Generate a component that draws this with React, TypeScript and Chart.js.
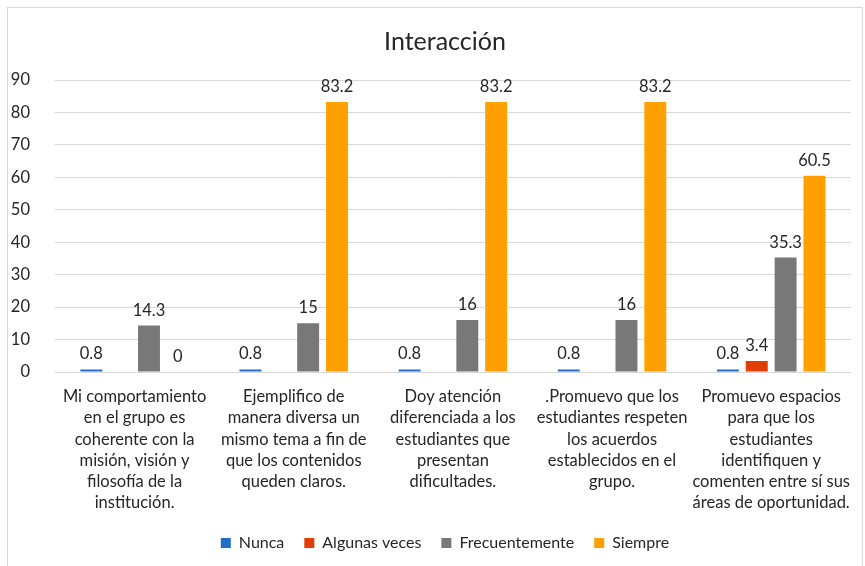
import { useEffect, useRef } from "react";
import { Chart, registerables } from "chart.js";
Chart.register(...registerables);

const title = "Interacción";
const categories: string[][] = [
  ["Mi comportamiento", "en el grupo es", "coherente con la", "misión, visión y", "filosofía de la", "institución."],
  ["Ejemplifico de", "manera diversa un", "mismo tema a fin de", "que los contenidos", "queden claros."],
  ["Doy atención", "diferenciada a los", "estudiantes que", "presentan", "dificultades."],
  [".Promuevo que los", "estudiantes respeten", "los acuerdos", "establecidos en el", "grupo."],
  ["Promuevo espacios", "para que los", "estudiantes", "identifiquen y", "comenten entre sí sus", "áreas de oportunidad."],
];
const seriesNames = ["Nunca", "Algunas veces", "Frecuentemente", "Siempre"];
const nunca = [0.8, 0.8, 0.8, 0.8, 0.8];
const algunasVeces = [null, null, null, null, 3.4];
const frecuentemente = [14.3, 15, 16, 16, 35.3];
const siempre = [0, 83.2, 83.2, 83.2, 60.5];
const seriesColors = ["#1F6FC6", "#E23D05", "#787878", "#FFA000"];
const yMin = 0;
const yMax = 90;
const yStep = 10;

const FONT = "Lato, 'Noto Sans', sans-serif";
const TEXT = "#262626";

const dataLabels = {
  id: "dataLabels",
  afterDatasetsDraw(chart: any) {
    const ctx = chart.ctx;
    ctx.save();
    ctx.font = `16.5px ${FONT}`;
    ctx.fillStyle = TEXT;
    ctx.textAlign = "center";
    ctx.textBaseline = "bottom";
    chart.data.datasets.forEach((ds: any, i: number) => {
      const meta = chart.getDatasetMeta(i);
      meta.data.forEach((el: any, j: number) => {
        const v = ds.data[j];
        if (v === null || v === undefined) return;
        ctx.fillText(String(v), el.x, el.y - 7);
      });
    });
    ctx.restore();
  },
};

export default function App() {
  const ref = useRef<HTMLCanvasElement>(null);
  useEffect(() => {
    if (!ref.current) return;
    const allSeries = [nunca, algunasVeces, frecuentemente, siempre];
    const chart = new Chart(ref.current, {
      type: "bar",
      data: {
        labels: categories,
        datasets: allSeries.map((d, i) => ({
          label: seriesNames[i],
          data: d as any,
          backgroundColor: seriesColors[i],
          borderWidth: 0,
          categoryPercentage: 0.725,
          barPercentage: 0.76,
          yAxisID: "y",
        })),
      },
      options: {
        responsive: false,
        animation: false,
        layout: { padding: { top: 0, left: 10, right: -15, bottom: 5 } },
        scales: {
          x: {
            grid: { display: false, drawTicks: false },
            border: { display: false },
            ticks: {
              font: { family: FONT, size: 16.5, lineHeight: 1.29 },
              color: TEXT,
              padding: 14,
              maxRotation: 0,
              autoSkip: false,
            },
            afterFit: (s: any) => {
              s.height = 143;
            },
          },
          y: {
            min: yMin,
            max: yMax,
            ticks: {
              stepSize: yStep,
              font: { family: FONT, size: 16.5 },
              color: TEXT,
              padding: 25,
            },
            grid: { color: "#D9D9D9", drawTicks: false },
            border: { display: false },
            afterFit: (s: any) => {
              s.width = 45;
            },
          },
          yRight: {
            position: "right",
            min: yMin,
            max: yMax,
            ticks: { display: false },
            grid: { display: false, drawTicks: false },
            border: { display: false },
            afterFit: (s: any) => {
              s.width = 25;
            },
          },
        },
        plugins: {
          title: {
            display: true,
            text: title,
            color: TEXT,
            font: { family: FONT, size: 25, weight: "normal", lineHeight: 1.2 },
            padding: { top: 27, bottom: 23 },
          },
          legend: {
            position: "bottom",
            labels: {
              boxWidth: 10,
              boxHeight: 10,
              padding: 20,
              color: TEXT,
              font: { family: FONT, size: 16 },
            },
          },
          tooltip: { enabled: false },
        },
      },
      plugins: [dataLabels],
    });
    return () => chart.destroy();
  }, []);
  return (
    <div style={{ position: "absolute", left: 0, top: 0, width: 865, height: 566, overflow: "hidden", background: "#fff" }}>
      <div style={{ position: "absolute", left: 7, top: 7, width: 854, height: 600, border: "1px solid #D9D9D9" }} />
      <canvas ref={ref} width={865} height={566} style={{ position: "absolute", left: 0, top: 0 }} />
    </div>
  );
}
